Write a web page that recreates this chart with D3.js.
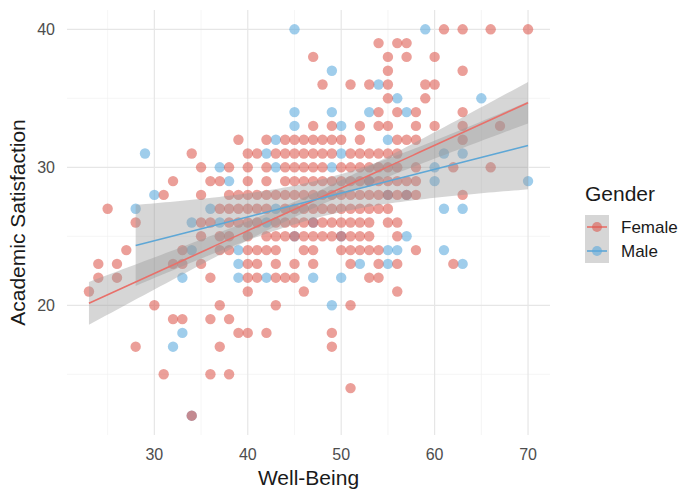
<!DOCTYPE html>
<html>
<head>
<meta charset="utf-8">
<script src="https://cdn.jsdelivr.net/npm/d3@7"></script>
<style>
  body { margin: 0; background: #fff; }
  svg { display: block; font-family: "Liberation Sans", Arial, sans-serif; }
</style>
</head>
<body>
<svg class="chart"></svg>
<script>
// Academic Satisfaction (y) by Well-Being (x); each row: [satisfaction, [well-being values]]
var femaleRows = [
  [40, [61, 63, 66, 70]],
  [39, [54, 56, 57]],
  [38, [47, 55, 57, 60]],
  [37, [55, 63]],
  [36, [48, 51, 53, 55, 59, 60]],
  [35, [55, 59]],
  [34, [54, 56, 58, 63]],
  [33, [47, 49, 52, 54, 55, 58, 60, 63, 67]],
  [32, [39, 42, 44, 45, 46, 47, 48, 49, 50, 52, 56, 57, 58, 63]],
  [31, [34, 40, 41, 43, 44, 45, 46, 47, 48, 49, 51, 52, 53, 54, 55, 56]],
  [30, [35, 38, 40, 42, 44, 45, 46, 47, 48, 50, 51, 52, 53, 54, 55, 56, 58, 62, 66]],
  [29, [32, 36, 37, 40, 42, 44, 45, 46, 47, 48, 49, 50, 51, 52, 53, 54, 55, 56, 57, 58]],
  [28, [31, 35, 38, 39, 40, 41, 42, 43, 44, 45, 46, 47, 48, 49, 50, 51, 52, 53, 54, 55, 56, 57, 58, 63]],
  [27, [25, 37, 38, 39, 40, 41, 42, 44, 45, 46, 47, 48, 49, 50, 51, 52, 53, 54, 55]],
  [26, [28, 35, 36, 38, 39, 40, 41, 43, 44, 45, 46, 47, 48, 49, 50, 51, 52, 53, 55, 56]],
  [25, [35, 37, 38, 40, 42, 43, 44, 45, 46, 47, 48, 49, 50, 51, 52, 53, 56]],
  [24, [27, 33, 37, 38, 40, 41, 42, 43, 46, 47, 50, 51, 52, 53, 54, 58]],
  [23, [24, 26, 32, 33, 35, 40, 41, 43, 45, 47, 51, 54, 56, 62]],
  [22, [24, 26, 36, 40, 41, 43, 44, 45, 53, 54]],
  [21, [23, 40, 46, 56]],
  [20, [30, 37, 43, 51]],
  [19, [32, 33, 36, 38]],
  [18, [39, 40, 42, 49]],
  [17, [28, 37, 49]],
  [15, [31, 36, 38]],
  [14, [51]],
  [12, [34]]
];

var maleRows = [
  [40, [45, 59]],
  [37, [49]],
  [36, [54]],
  [35, [56, 65]],
  [34, [45, 49, 53, 57]],
  [33, [45, 50]],
  [32, [43, 55]],
  [31, [29, 42, 50, 61, 63]],
  [30, [37, 43, 49, 60]],
  [29, [38, 53, 60, 70]],
  [28, [30, 55, 57]],
  [27, [28, 36, 43, 61, 63]],
  [26, [34, 37, 42, 47]],
  [25, [45, 50, 57]],
  [24, [34, 39, 55, 56, 61]],
  [23, [39, 52, 55, 63]],
  [22, [33, 39, 42, 47, 50]],
  [20, [49]],
  [18, [33]],
  [17, [32]],
  [12, [34]]
];

var genders = ["Female", "Male"];
var xTicks = [30, 40, 50, 60, 70];
var yTicks = [20, 30, 40];

var width = 681, height = 491;
var panel = {left: 67, right: 550, top: 10, bottom: 435};

var colors = {Female: "#dc5a50", Male: "#5aa9dc"};
var lineColors = {Female: "#e8706a", Male: "#5ea7d6"};

function expand(rows, g) {
  var out = [];
  rows.forEach(function(r) {
    r[1].forEach(function(wb) { out.push({g: g, x: wb, y: r[0]}); });
  });
  return out;
}
var female = expand(femaleRows, "Female");
var male = expand(maleRows, "Male");
var all = male.concat(female);

var xExt = d3.extent(all, function(d) { return d.x; });
var yExt = d3.extent(all, function(d) { return d.y; });
var xPad = (xExt[1] - xExt[0]) * 0.05, yPad = (yExt[1] - yExt[0]) * 0.05;

var x = d3.scaleLinear().domain([xExt[0] - xPad, xExt[1] + xPad]).range([panel.left, panel.right]);
var y = d3.scaleLinear().domain([yExt[0] - yPad, yExt[1] + yPad]).range([panel.bottom, panel.top]);

var svg = d3.select(".chart").attr("width", width).attr("height", height);

// grid
var grid = svg.append("g").attr("class", "grid");
var xMinor = d3.range(25, 75, 10).filter(function(v) { return v > x.domain()[0] && v < x.domain()[1]; });
var yMinor = d3.range(15, 45, 10).filter(function(v) { return v > y.domain()[0] && v < y.domain()[1]; });
grid.selectAll(".xminor").data(xMinor).enter().append("line")
  .attr("x1", x).attr("x2", x).attr("y1", panel.top).attr("y2", panel.bottom)
  .attr("stroke", "#f0f0f0").attr("stroke-width", 0.7);
grid.selectAll(".yminor").data(yMinor).enter().append("line")
  .attr("y1", y).attr("y2", y).attr("x1", panel.left).attr("x2", panel.right)
  .attr("stroke", "#f0f0f0").attr("stroke-width", 0.7);
grid.selectAll(".xmajor").data(xTicks).enter().append("line")
  .attr("x1", x).attr("x2", x).attr("y1", panel.top).attr("y2", panel.bottom)
  .attr("stroke", "#e6e6e6").attr("stroke-width", 1.2);
grid.selectAll(".ymajor").data(yTicks).enter().append("line")
  .attr("y1", y).attr("y2", y).attr("x1", panel.left).attr("x2", panel.right)
  .attr("stroke", "#e6e6e6").attr("stroke-width", 1.2);

// points
svg.append("g").attr("class", "points").selectAll("circle")
  .data(all).enter().append("circle")
  .attr("cx", function(d) { return x(d.x); })
  .attr("cy", function(d) { return y(d.y); })
  .attr("r", 5.2)
  .attr("fill", function(d) { return colors[d.g]; })
  .attr("fill-opacity", 0.58);

// linear fit with 95% confidence band (like geom_smooth(method = "lm"))
function tq(df) {
  var z = 1.959964;
  return z + (z * z * z + z) / (4 * df) + (5 * Math.pow(z, 5) + 16 * z * z * z + 3 * z) / (96 * df * df);
}
function lmFit(pts) {
  var n = pts.length;
  var mx = d3.mean(pts, function(d) { return d.x; });
  var my = d3.mean(pts, function(d) { return d.y; });
  var sxx = d3.sum(pts, function(d) { return (d.x - mx) * (d.x - mx); });
  var sxy = d3.sum(pts, function(d) { return (d.x - mx) * (d.y - my); });
  var b = sxy / sxx, a = my - b * mx;
  var s = Math.sqrt(d3.sum(pts, function(d) { var e = d.y - a - b * d.x; return e * e; }) / (n - 2));
  var t = tq(n - 2);
  var ext = d3.extent(pts, function(d) { return d.x; });
  return d3.range(0, 81).map(function(i) {
    var xv = ext[0] + (ext[1] - ext[0]) * i / 80;
    var fv = a + b * xv;
    var se = s * Math.sqrt(1 / n + (xv - mx) * (xv - mx) / sxx);
    return {x: xv, y: fv, lo: fv - t * se, hi: fv + t * se};
  });
}

var fits = {Female: lmFit(female), Male: lmFit(male)};
var area = d3.area().x(function(d) { return x(d.x); })
  .y0(function(d) { return y(d.lo); }).y1(function(d) { return y(d.hi); });
var line = d3.line().x(function(d) { return x(d.x); }).y(function(d) { return y(d.y); });

var smooth = svg.append("g").attr("class", "smooth");
genders.forEach(function(g) {
  smooth.append("path").attr("d", area(fits[g]))
    .attr("fill", "#999999").attr("fill-opacity", 0.4);
});
genders.forEach(function(g) {
  smooth.append("path").attr("d", line(fits[g]))
    .attr("fill", "none").attr("stroke", lineColors[g]).attr("stroke-width", 1.6);
});

// axis labels
svg.append("g").selectAll("text").data(xTicks).enter().append("text")
  .attr("x", x).attr("y", 460)
  .attr("text-anchor", "middle")
  .attr("font-size", 16).attr("fill", "#4d4d4d")
  .text(function(d) { return d; });
svg.append("g").selectAll("text").data(yTicks).enter().append("text")
  .attr("x", 55).attr("y", function(d) { return y(d) + 6; })
  .attr("text-anchor", "end")
  .attr("font-size", 16).attr("fill", "#4d4d4d")
  .text(function(d) { return d; });

svg.append("text")
  .attr("x", (panel.left + panel.right) / 2).attr("y", 485)
  .attr("text-anchor", "middle").attr("font-size", 21).attr("fill", "#1a1a1a")
  .text("Well-Being");
svg.append("text")
  .attr("transform", "translate(25," + ((panel.top + panel.bottom) / 2) + ") rotate(-90)")
  .attr("text-anchor", "middle").attr("font-size", 21).attr("fill", "#1a1a1a")
  .text("Academic Satisfaction");

// legend
var legend = svg.append("g").attr("transform", "translate(585,0)");
legend.append("text").attr("x", 0).attr("y", 201)
  .attr("font-size", 21).attr("fill", "#1a1a1a").text("Gender");
var key = legend.selectAll(".key").data(genders).enter().append("g")
  .attr("transform", function(d, i) { return "translate(0," + (215 + i * 24) + ")"; });
key.append("rect").attr("width", 24).attr("height", 24)
  .attr("fill", "#999999").attr("fill-opacity", 0.4);
key.append("line").attr("x1", 2).attr("x2", 22).attr("y1", 12).attr("y2", 12)
  .attr("stroke", function(d) { return lineColors[d]; }).attr("stroke-width", 1.6);
key.append("circle").attr("cx", 12).attr("cy", 12).attr("r", 5)
  .attr("fill", function(d) { return colors[d]; }).attr("fill-opacity", 0.6);
key.append("text").attr("x", 36).attr("y", 18)
  .attr("font-size", 17).attr("fill", "#1a1a1a")
  .text(function(d) { return d; });
</script>
</body>
</html>
